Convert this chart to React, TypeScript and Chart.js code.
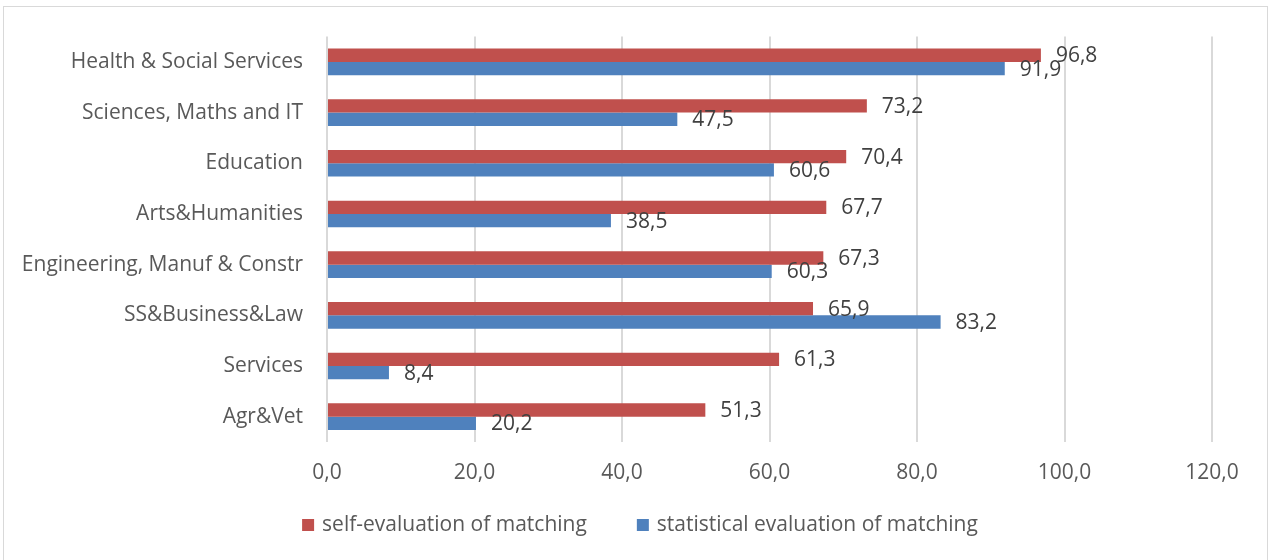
import React, { useEffect, useRef } from "react";
import { Chart, registerables } from "chart.js";

Chart.register(...registerables);

const categories = [
  "Health & Social Services",
  "Sciences, Maths and IT",
  "Education",
  "Arts&Humanities",
  "Engineering, Manuf & Constr",
  "SS&Business&Law",
  "Services",
  "Agr&Vet",
];
const selfEvaluation = [96.8, 73.2, 70.4, 67.7, 67.3, 65.9, 61.3, 51.3];
const statisticalEvaluation = [91.9, 47.5, 60.6, 38.5, 60.3, 83.2, 8.4, 20.2];
const seriesNames = ["self-evaluation of matching", "statistical evaluation of matching"];
const xTicks = [0, 20, 40, 60, 80, 100, 120];

const FONT = "'Open Sans', sans-serif";
const fmt = (v: number) => v.toFixed(1).replace(".", ",");

const labelPlugin = {
  id: "barLabels",
  afterDatasetsDraw(chart: any) {
    const ctx = chart.ctx;
    ctx.save();
    ctx.font = `21px ${FONT}`;
    ctx.fillStyle = "#404040";
    ctx.textAlign = "left";
    ctx.textBaseline = "middle";
    chart.data.datasets.forEach((ds: any, di: number) => {
      const meta = chart.getDatasetMeta(di);
      meta.data.forEach((bar: any, i: number) => {
        ctx.fillText(fmt(ds.data[i]), bar.x + 15, bar.y + 1);
      });
    });
    ctx.restore();
  },
};

const legendPlugin = {
  id: "customLegend",
  afterDraw(chart: any) {
    const ctx = chart.ctx;
    ctx.save();
    ctx.font = `21px ${FONT}`;
    ctx.textBaseline = "middle";
    ctx.textAlign = "left";
    const box = 12;
    const gapText = 8;
    const gapItem = 50;
    const items = chart.data.datasets.map((ds: any) => ({
      text: ds.label,
      color: ds.backgroundColor,
      w: box + gapText + ctx.measureText(ds.label).width,
    }));
    const total = items.reduce((s: number, it: any) => s + it.w, 0) + gapItem * (items.length - 1);
    let x = 640 - total / 2;
    const y = 525;
    items.forEach((it: any) => {
      ctx.fillStyle = it.color;
      ctx.fillRect(x, y - box / 2, box, box);
      ctx.fillStyle = "#595959";
      ctx.fillText(it.text, x + box + gapText, y);
      x += it.w + gapItem;
    });
    ctx.restore();
  },
};

export default function App() {
  const ref = useRef<HTMLCanvasElement>(null);
  useEffect(() => {
    if (!ref.current) return;
    const chart = new Chart(ref.current, {
      type: "bar",
      data: {
        labels: categories,
        datasets: [
          {
            label: seriesNames[0],
            data: selfEvaluation,
            backgroundColor: "#C0504D",
            categoryPercentage: 0.526,
            barPercentage: 1,
          },
          {
            label: seriesNames[1],
            data: statisticalEvaluation,
            backgroundColor: "#4F81BD",
            categoryPercentage: 0.526,
            barPercentage: 1,
          },
        ],
      },
      options: {
        indexAxis: "y",
        responsive: false,
        animation: false,
        layout: { padding: { top: 36, right: 61, bottom: 0, left: 0 } },
        plugins: {
          legend: { display: false },
          tooltip: { enabled: false },
        },
        scales: {
          x: {
            min: 0,
            max: 120,
            afterBuildTicks: (scale: any) => {
              scale.ticks = xTicks.map((v) => ({ value: v }));
            },
            afterFit: (scale: any) => {
              scale.height = 118;
            },
            grid: { color: "#D9D9D9", lineWidth: 2, drawTicks: false },
            border: { display: false },
            ticks: {
              padding: 18,
              color: "#595959",
              font: { family: FONT, size: 21 },
              callback: (v: any) => fmt(Number(v)),
            },
          },
          y: {
            afterFit: (scale: any) => {
              scale.width = 327;
            },
            grid: { display: false, drawTicks: false },
            border: { display: false },
            ticks: {
              padding: 24,
              color: "#595959",
              font: { family: FONT, size: 21 },
            },
          },
        },
      },
      plugins: [labelPlugin, legendPlugin],
    } as any);
    return () => chart.destroy();
  }, []);

  return (
    <div style={{ position: "fixed", left: 0, top: 0, width: 1273, height: 560, background: "#fff" }}>
      <div
        style={{
          position: "absolute",
          left: 3,
          top: 6,
          width: 1263,
          height: 553,
          border: "1px solid #D9D9D9",
        }}
      />
      <canvas ref={ref} width={1273} height={560} style={{ position: "absolute", left: 0, top: 0 }} />
    </div>
  );
}
